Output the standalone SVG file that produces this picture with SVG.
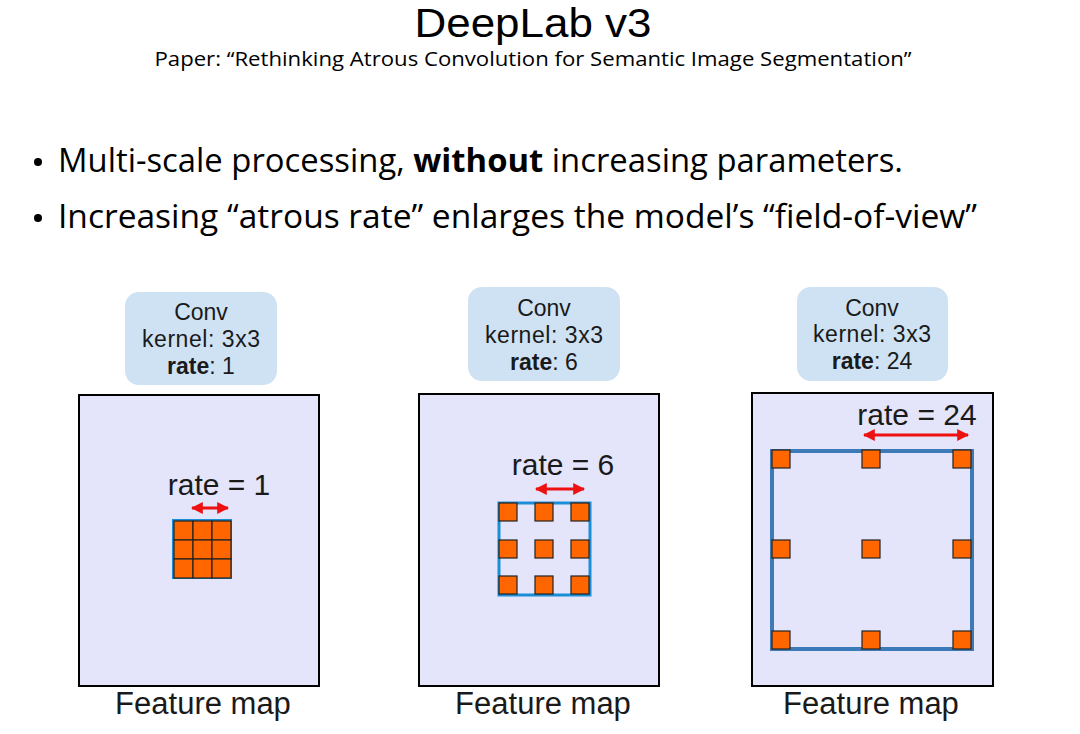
<svg xmlns="http://www.w3.org/2000/svg" width="1080" height="734" viewBox="0 0 1080 734">
<defs>
<style>
.ttl{font-family:"Open Sans","Noto Sans",sans-serif;fill:#000}
.ar{font-family:"Liberation Sans",Arial,sans-serif;fill:#1a1a1a}
.cvt{font-size:23px}
.rt{font-size:30px}
.fmt{font-size:31px}
.fm{fill:#e4e4fa;stroke:#000;stroke-width:2}
.cv{fill:#cfe2f3}
.or{fill:#ff6600;stroke:#222;stroke-width:1.2}
.arrow{stroke:#ee1111;stroke-width:3;fill:none}
</style>
<marker id="ah" viewBox="0 0 10 10" refX="9" refY="5" markerWidth="4" markerHeight="4" orient="auto-start-reverse">
<path d="M0,0 L10,5 L0,10 z" fill="#ee1111"/>
</marker>
</defs>
<rect width="1080" height="734" fill="#fff"/>
<g id="header">
<text x="533" y="37" font-family="'Liberation Sans',Arial,sans-serif" font-size="40" fill="#000" text-anchor="middle" textLength="237" lengthAdjust="spacingAndGlyphs">DeepLab v3</text>
<text class="ttl" x="533" y="66" font-size="20" text-anchor="middle" textLength="757" lengthAdjust="spacingAndGlyphs">Paper: “Rethinking Atrous Convolution for Semantic Image Segmentation”</text>
<circle cx="38" cy="162" r="4" fill="#000"/>
<text class="ttl" x="58" y="172" font-size="33" textLength="845" lengthAdjust="spacingAndGlyphs">Multi-scale processing, <tspan font-weight="bold">without</tspan> increasing parameters.</text>
<circle cx="38" cy="218" r="4" fill="#000"/>
<text class="ttl" x="58" y="228" font-size="33" textLength="919" lengthAdjust="spacingAndGlyphs">Increasing “atrous rate” enlarges the model’s “field-of-view”</text>
</g>
<g id="panel1">
<rect class="cv" x="125" y="292" width="152" height="93" rx="14"/>
<text class="ar cvt" x="201" y="320" text-anchor="middle">Conv</text>
<text class="ar cvt" x="201" y="347" text-anchor="middle" textLength="118">kernel: 3x3</text>
<text class="ar cvt" x="201" y="374" text-anchor="middle"><tspan font-weight="bold">rate</tspan>: 1</text>
<rect class="fm" x="79" y="395" width="240" height="291"/>
<text class="ar rt" x="219" y="495" text-anchor="middle">rate = 1</text>
<rect x="172" y="519" width="60" height="60" fill="#1a8fd8"/>
<g class="or">
<rect x="174" y="521" width="19" height="19"/><rect x="193" y="521" width="19" height="19"/><rect x="212" y="521" width="19" height="19"/>
<rect x="174" y="540" width="19" height="19"/><rect x="193" y="540" width="19" height="19"/><rect x="212" y="540" width="19" height="19"/>
<rect x="174" y="559" width="19" height="19"/><rect x="193" y="559" width="19" height="19"/><rect x="212" y="559" width="19" height="19"/>
</g>
<text class="ar fmt" x="203" y="714" text-anchor="middle">Feature map</text>
</g>
<g id="panel2">
<rect class="cv" x="468" y="287" width="152" height="94" rx="14"/>
<text class="ar cvt" x="544" y="316" text-anchor="middle">Conv</text>
<text class="ar cvt" x="544" y="343" text-anchor="middle" textLength="118">kernel: 3x3</text>
<text class="ar cvt" x="544" y="370" text-anchor="middle"><tspan font-weight="bold">rate</tspan>: 6</text>
<rect class="fm" x="419" y="394" width="240" height="292"/>
<text class="ar rt" x="563" y="475" text-anchor="middle">rate = 6</text>
<rect x="499" y="503" width="91" height="92" fill="none" stroke="#1a8fd8" stroke-width="3"/>
<g class="or">
<rect x="499" y="503" width="18" height="18"/><rect x="535" y="503" width="18" height="18"/><rect x="571" y="503" width="18" height="18"/>
<rect x="499" y="540" width="18" height="18"/><rect x="535" y="540" width="18" height="18"/><rect x="571" y="540" width="18" height="18"/>
<rect x="499" y="576" width="18" height="18"/><rect x="535" y="576" width="18" height="18"/><rect x="571" y="576" width="18" height="18"/>
</g>
<text class="ar fmt" x="543" y="714" text-anchor="middle">Feature map</text>
</g>
<g id="panel3">
<rect class="cv" x="797" y="287" width="151" height="94" rx="14"/>
<text class="ar cvt" x="872" y="316" text-anchor="middle">Conv</text>
<text class="ar cvt" x="872" y="342" text-anchor="middle" textLength="118">kernel: 3x3</text>
<text class="ar cvt" x="872" y="369" text-anchor="middle"><tspan font-weight="bold">rate</tspan>: 24</text>
<rect class="fm" x="752" y="393" width="241" height="293"/>
<text class="ar rt" x="917" y="425" text-anchor="middle">rate = 24</text>
<rect x="772" y="451" width="200" height="198" fill="none" stroke="#3d7ab8" stroke-width="4"/>
<g class="or">
<rect x="772" y="450" width="18" height="18"/><rect x="862" y="450" width="18" height="18"/><rect x="953" y="450" width="18" height="18"/>
<rect x="772" y="540" width="18" height="18"/><rect x="862" y="540" width="18" height="18"/><rect x="953" y="540" width="18" height="18"/>
<rect x="772" y="631" width="18" height="18"/><rect x="862" y="631" width="18" height="18"/><rect x="953" y="631" width="18" height="18"/>
</g>
<text class="ar fmt" x="871" y="714" text-anchor="middle">Feature map</text>
</g>
<g id="connectors">
<line class="arrow" x1="192" y1="508" x2="228" y2="508" marker-start="url(#ah)" marker-end="url(#ah)"/>
<line class="arrow" x1="536" y1="489" x2="584" y2="489" marker-start="url(#ah)" marker-end="url(#ah)"/>
<line class="arrow" x1="864" y1="435" x2="968" y2="435" marker-start="url(#ah)" marker-end="url(#ah)"/>
</g>
</svg>
